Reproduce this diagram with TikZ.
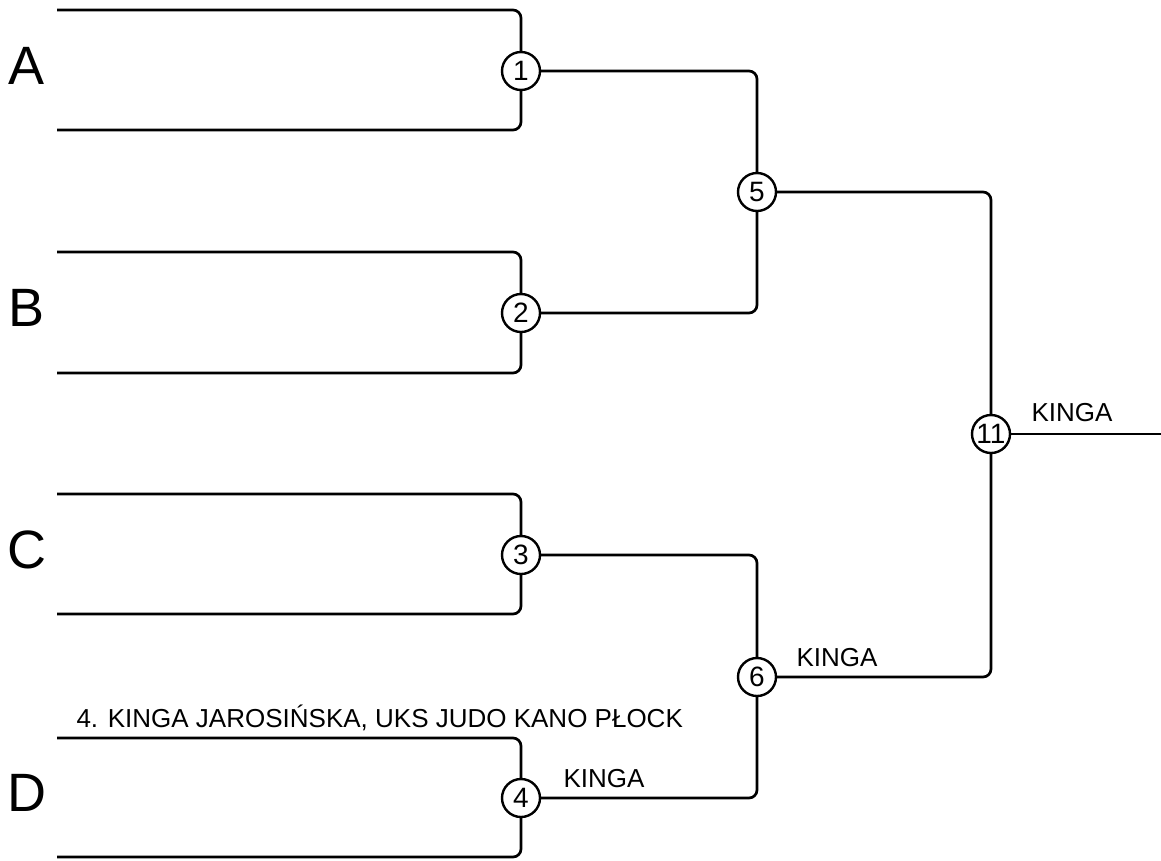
\documentclass[tikz,border=0pt]{standalone}
\usepackage{fontspec}
\setmainfont{Liberation Sans}
\usetikzlibrary{positioning}

\begin{document}
\begin{tikzpicture}[
    x=1pt, y=-1pt,
    bout/.style={circle, draw, line width=2.4pt, fill=white, minimum size=38pt, inner sep=0pt, font=\fontsize{28}{28}\selectfont},
    pool/.style={anchor=base, font=\fontsize{54}{54}\selectfont},
    winner/.style={anchor=base west, font=\fontsize{26}{26}\selectfont},
    wire/.style={line width=2.7pt, rounded corners=8pt}
]
\useasboundingbox (0,0) rectangle (1161,860);

% First round
\node[bout] (m1) at (521,71) {1};
\node[bout] (m2) at (521,313) {2};
\node[bout] (m3) at (521,555) {3};
\node[bout] (m4) at (521,798) {4};

% Second round and final
\node[bout] (m5) at (757,192) {5};
\node[bout] (m6) at (757,677) {6};
\node[bout] (m11) at (991,434) {11};

% Pools
\node[pool] (poolA) at (27,84) {A};
\node[pool] (poolB) at (27,326) {B};
\node[pool] (poolC) at (27,568) {C};
\node[pool] (poolD) at (27,811) {D};

% Bracket ends
\coordinate (a1) at (57,10);
\coordinate (a2) at (57,130);
\coordinate (b1) at (57,252);
\coordinate (b2) at (57,373);
\coordinate (c1) at (57,494);
\coordinate (c2) at (57,614);
\coordinate (d1) at (57,738);
\coordinate (d2) at (57,857);
\coordinate (out) at (1161,434);

% Brackets
\draw[wire] (a1) -| (m1.north);
\draw[wire] (a2) -| (m1.south);
\draw[wire] (b1) -| (m2.north);
\draw[wire] (b2) -| (m2.south);
\draw[wire] (c1) -| (m3.north);
\draw[wire] (c2) -| (m3.south);
\draw[wire] (d1) -| (m4.north);
\draw[wire] (d2) -| (m4.south);

\draw[wire] (m1.east) -| (m5.north);
\draw[wire] (m2.east) -| (m5.south);
\draw[wire] (m3.east) -| (m6.north);
\draw[wire] (m4.east) -| (m6.south);
\draw[wire] (m5.east) -| (m11.north);
\draw[wire] (m6.east) -| (m11.south);
\draw[wire] (m11.east) -- (out);

% Names
\node[winner] (seed4) at (73,727) {4. KINGA JAROSIŃSKA, UKS JUDO KANO PŁOCK};
\node[winner] (win4) at (560,787) {KINGA};
\node[winner] (win6) at (793,666) {KINGA};
\node[winner] (win11) at (1028,421) {KINGA};

\end{tikzpicture}
\end{document}
